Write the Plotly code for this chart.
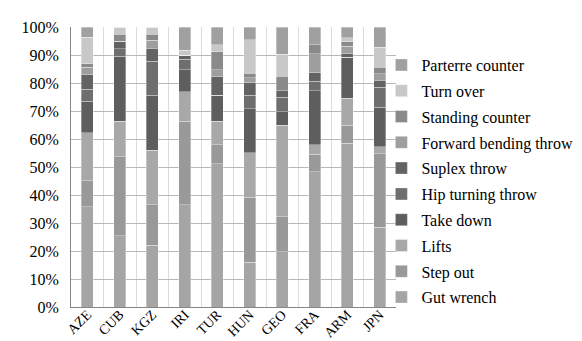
import plotly.graph_objects as go

countries = ["AZE", "CUB", "KGZ", "IRI", "TUR", "HUN", "GEO", "FRA", "ARM", "JPN"]

gut_wrench = [35.8, 25.5, 22.0, 36.5, 51.2, 16.0, 19.8, 48.3, 58.4, 28.5]
step_out = [9.3, 28.2, 14.5, 29.9, 6.7, 23.1, 12.5, 6.3, 6.6, 26.3]
lifts = [17.2, 12.7, 19.5, 10.5, 8.5, 15.9, 32.7, 3.3, 9.5, 2.4]
take_down = [11.3, 23.2, 19.7, 7.9, 9.3, 15.7, 4.8, 19.4, 14.7, 14.2]
hip_turning = [4.2, 2.7, 12.1, 3.6, 0, 4.8, 5.2, 3.4, 0, 7.1]
suplex = [5.3, 2.6, 4.7, 1.6, 6.5, 4.4, 2.3, 2.9, 1.3, 2.4]
forward_bending = [2.6, 0, 2.8, 0, 2.6, 1.8, 0, 6.8, 2.7, 2.4]
standing_counter = [1.2, 2.6, 2.2, 0, 6.3, 1.7, 5.1, 3.3, 1.5, 2.3]
turn_over = [9.5, 2.5, 2.5, 1.7, 2.6, 11.9, 7.8, 0, 1.4, 7.2]
parterre_counter = [3.7, 0, 0, 8.3, 6.3, 4.5, 9.8, 6.3, 3.9, 7.2]

series = [
    ("Gut wrench", gut_wrench, "#a5a5a5"),
    ("Step out", step_out, "#999999"),
    ("Lifts", lifts, "#a8a8a8"),
    ("Take down", take_down, "#5e5e5e"),
    ("Hip turning throw", hip_turning, "#6e6e6e"),
    ("Suplex throw", suplex, "#636363"),
    ("Forward bending throw", forward_bending, "#9e9e9e"),
    ("Standing counter", standing_counter, "#8a8a8a"),
    ("Turn over", turn_over, "#c8c8c8"),
    ("Parterre counter", parterre_counter, "#a0a0a0"),
]

font_family = "Liberation Serif"

fig = go.Figure()
n = len(series)
for i, (name, vals, color) in enumerate(series):
    fig.add_trace(go.Bar(
        x=countries, y=vals, name=name, legendgroup=name, legendrank=n - i,
        marker=dict(color=color, line=dict(color="rgba(255,255,255,0.55)", width=0.6)),
    ))

fig.update_layout(
    width=582, height=341,
    barmode="stack", barnorm="percent", bargap=0.62,
    paper_bgcolor="white", plot_bgcolor="white",
    margin=dict(l=63, r=194, t=19, b=42, autoexpand=False),
    font=dict(family=font_family, size=16, color="black"),
    xaxis=dict(
        type="category", tickangle=-45, tickson="boundaries",
        showgrid=True, gridcolor="#dcdcdc", gridwidth=1,
        showline=True, linecolor="#868686", linewidth=1,
        ticks="", ticklabelstandoff=-7, automargin=False,
        tickfont=dict(size=14, family=font_family),
    ),
    yaxis=dict(
        range=[0, 100], dtick=10, ticksuffix="%",
        showgrid=True, gridcolor="#b8b8b8", gridwidth=1,
        showline=True, linecolor="#868686", linewidth=1,
        zeroline=False, ticks="", ticklabelstandoff=8, automargin=False,
        tickfont=dict(size=16, family=font_family),
    ),
    legend=dict(
        x=0.955, xanchor="left", y=0.925, yanchor="top",
        traceorder="grouped", tracegroupgap=2,
        font=dict(size=16, family=font_family),
        bgcolor="rgba(0,0,0,0)",
    ),
    showlegend=True,
)

fig.write_html("out.html")
